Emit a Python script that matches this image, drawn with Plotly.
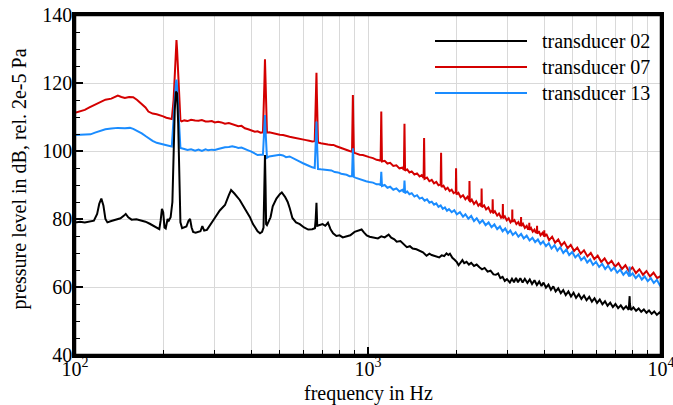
import plotly.graph_objects as go

# ---------------- data (frequency in Hz, level in dB) ----------------
red_pts = [
    (100,111.2),(104,111.6),(108,112.1),(112,112.8),(117,113.6),(122,114.4),(127,115.1),(133,115.4),
    (137,115.8),(140,116.3),(144,115.9),(148,115.6),(153,115.9),(158,115.8),(163,115.0),(169,113.9),
    (174,112.8),(178,111.6),(184,111.0),(190,110.8),(195,110.6),(200,110.2),(205,109.8),(210,109.5),
    (214,109.4),(217,115.0),(219,122.0),(221,130.5),(222,132.6),(223,130.0),(225,122.0),(227,114.0),
    (229,109.0),(231,108.7),(236,109.0),(242,108.8),(249,109.2),(257,109.0),(264,108.9),(271,109.1),
    (279,108.7),(285,108.7),(293,108.8),(300,108.4),(308,108.6),(316,108.4),(325,108.0),(335,108.2),
    (344,107.9),(352,107.7),(361,107.3),(370,107.4),(380,106.7),(390,106.4),(400,106.0),(411,105.7),
    (420,105.8),(430,105.4),(438,105.5),(441,112.0),(443,120.0),(445,127.0),(447,119.0),(449,112.0),
    (452,105.4),(460,105.5),(470,105.3),(480,105.0),(490,104.9),(500,104.8),(513,104.7),(525,104.4),
    (540,104.2),(555,104.0),(570,103.8),(585,103.8),(600,103.5),(615,103.2),(630,103.0),(645,102.8),
    (658,102.9),(662,112.0),(665,120.0),(667,123.0),(669,117.0),(672,108.0),(675,102.5),(690,102.3),
    (710,102.0),(730,101.9),(750,101.8),(762,101.8),(780,101.4),(800,101.0),(820,100.8),(845,100.3),
    (865,100.0),(882,99.8),(885,108.0),(888,116.5),(891,108.0),(895,99.5),(910,99.3),(936,98.9),
    (960,98.8),(985,98.4),(1010,98.2),(1040,97.9),(1070,97.4),(1100,97.2),(1104,97.0),(1107,104.0),
    (1110,111.6),(1113,104.0),(1116,96.9),(1140,97.1),(1165,96.3),(1190,96.5),(1220,95.6),(1250,95.8),
    (1280,94.9),(1310,95.1),(1326,94.4),(1329,101.0),(1332,108.0),(1335,101.0),(1338,94.2),(1360,94.6),
    (1385,93.7),(1410,94.0),(1440,93.1),(1470,93.4),(1500,92.5),(1525,92.9),(1548,92.1),(1551,98.0),
    (1554,103.8),(1557,98.0),(1560,91.8),(1590,92.2),(1620,91.1),(1650,91.5),(1680,90.5),(1710,90.9),
    (1740,89.9),(1770,90.2),(1773,95.0),(1776,99.5),(1779,95.0),(1782,89.4),(1810,89.8),(1840,88.7),
    (1870,89.2),(1900,88.2),(1930,88.6),(1960,87.6),(1994,88.0),(1996,91.5),(1998,94.9),(2000,91.5),
    (2004,87.2),(2035,87.7),(2070,86.4),(2110,87.0),(2150,85.8),(2185,86.5),(2216,85.4),(2218,88.3),
    (2220,91.2),(2222,88.3),(2226,85.0),(2260,85.7),(2300,84.4),(2340,85.2),(2380,83.9),(2420,84.6),
    (2438,83.6),(2440,86.3),(2442,89.0),(2444,86.3),(2448,83.5),(2490,84.0),(2530,82.8),(2575,83.4),
    (2620,82.0),(2660,82.6),(2662,84.2),(2664,85.8),(2666,84.2),(2670,81.7),(2710,82.3),(2760,81.0),
    (2800,81.6),(2845,80.4),(2882,81.0),(2884,82.7),(2886,84.4),(2888,82.7),(2890,80.2),(2930,80.8),
    (2975,79.6),(3020,80.2),(3065,79.0),(3104,79.6),(3106,81.2),(3108,82.8),(3110,81.2),(3112,79.2),
    (3160,79.7),(3210,78.5),(3260,79.1),(3300,78.0),(3326,78.6),(3328,79.6),(3330,80.6),(3332,79.6),
    (3334,77.9),(3380,78.6),(3430,77.4),(3480,78.0),(3520,76.9),(3548,77.5),(3550,78.3),(3552,78.9),
    (3554,78.3),(3556,76.8),(3600,77.4),(3650,76.3),(3700,76.9),(3740,75.9),(3772,76.4),(3774,77.3),
    (3776,78.0),(3778,77.3),(3780,75.7),(3830,76.4),(3880,75.2),(3940,75.9),(3992,74.9),(3994,75.9),
    (3996,76.7),(3998,75.9),(4000,74.8),(4060,75.6),(4150,73.8),(4250,74.8),(4350,73.0),(4460,74.0),
    (4570,72.2),(4680,73.2),(4800,71.4),(4920,72.4),(5050,70.6),(5180,71.6),(5320,69.8),(5460,70.8),
    (5610,69.0),(5760,70.0),(5920,68.2),(6080,69.2),(6250,67.4),(6420,68.4),(6600,66.7),(6780,67.7),
    (6970,66.0),(7160,67.0),(7360,65.3),(7560,66.4),(7770,64.7),(7990,65.8),(8210,64.1),(8440,65.2),
    (8680,63.6),(8920,64.7),(9170,63.1),(9430,64.2),(9700,62.6),(10000,63.3),
]

blue_pts = [
    (100,104.7),(104,104.7),(108,104.7),(113,104.9),(117,105.4),(122,105.9),(127,106.4),(133,106.6),
    (140,106.8),(148,106.7),(154,106.8),(158,106.5),(164,105.9),(169,105.2),(174,104.4),(178,103.8),
    (184,103.0),(190,102.4),(195,102.1),(200,101.9),(207,101.6),(214,101.3),(217,108.0),(219,115.0),
    (221,120.0),(222,121.0),(223,119.0),(225,112.0),(227,104.0),(229,100.9),(236,100.6),(242,100.3),
    (249,100.5),(257,100.1),(264,100.4),(271,100.0),(279,100.5),(285,100.2),(293,100.4),(300,100.3),
    (308,100.6),(316,100.9),(325,101.1),(335,101.2),(344,101.4),(352,101.2),(361,100.9),(370,101.0),
    (380,100.7),(390,100.2),(400,99.8),(411,99.3),(420,98.8),(430,98.9),(438,98.9),(441,104.0),
    (443,109.0),(445,110.6),(447,106.0),(449,101.0),(452,98.0),(460,98.4),(470,98.5),(480,98.8),
    (490,98.9),(500,98.9),(513,98.7),(525,98.2),(540,98.4),(555,97.8),(570,97.3),(585,96.9),
    (600,96.4),(615,95.9),(630,95.6),(645,95.2),(658,95.0),(662,101.0),(665,106.0),(667,108.7),
    (669,104.0),(672,99.0),(675,94.7),(690,94.6),(710,94.5),(730,94.2),(750,94.3),(770,93.8),
    (790,93.7),(810,93.3),(830,93.2),(845,93.0),(865,92.6),(882,92.6),(885,97.0),(888,100.8),
    (891,97.0),(895,92.4),(910,92.1),(936,91.7),(960,91.5),(985,91.1),(1010,90.9),(1040,90.7),
    (1070,90.2),(1100,90.3),(1104,89.8),(1107,92.3),(1110,93.9),(1113,92.0),(1116,89.7),(1140,90.0),
    (1165,89.2),(1190,89.5),(1220,88.6),(1250,89.0),(1280,88.1),(1310,88.6),(1326,87.8),(1329,90.0),
    (1332,91.3),(1335,89.8),(1338,87.6),(1360,88.1),(1385,87.3),(1410,87.6),(1440,86.6),(1470,87.0),
    (1500,86.0),(1530,86.3),(1560,85.4),(1590,85.8),(1620,84.8),(1650,85.1),(1680,84.2),(1710,84.6),
    (1740,83.6),(1770,84.0),(1800,83.0),(1830,83.4),(1860,82.4),(1890,82.9),(1930,82.0),(1970,82.6),
    (2010,81.4),(2060,82.0),(2110,80.7),(2150,81.4),(2200,80.1),(2250,80.9),(2300,79.4),(2350,80.2),
    (2406,78.8),(2460,79.6),(2520,78.2),(2580,79.0),(2640,77.6),(2700,78.4),(2760,77.0),(2820,77.8),
    (2880,76.4),(2940,77.2),(3000,75.8),(3060,76.6),(3120,75.3),(3190,76.1),(3260,74.8),(3330,75.6),
    (3400,74.3),(3480,75.1),(3560,73.7),(3640,74.5),(3720,73.2),(3800,74.0),(3880,72.6),(3960,73.4),
    (4050,72.0),(4140,72.9),(4230,71.3),(4330,72.3),(4430,70.7),(4530,71.7),(4640,70.0),(4750,71.0),
    (4860,69.4),(4980,70.3),(5100,68.7),(5220,69.6),(5340,67.9),(5470,68.8),(5600,67.2),(5730,68.1),
    (5860,66.5),(6000,67.4),(6150,65.9),(6300,66.8),(6450,65.3),(6600,66.3),(6760,64.8),(6920,65.7),
    (7090,64.2),(7260,65.1),(7440,63.6),(7620,64.6),(7800,63.1),(7816,66.0),(7832,63.2),(8000,64.0),
    (8200,62.6),(8400,63.6),(8600,62.2),(8800,63.1),(9010,61.7),(9230,62.6),(9450,61.2),(9680,62.1),
    (9900,60.6),(10000,61.2),
]

black_pts = [
    (100,79.0),(104,79.2),(108,79.0),(112,79.3),(116,79.5),(119,81.5),(121,84.5),(123,86.0),
    (125,84.0),(127,80.0),(129,79.0),(133,79.4),(138,79.7),(143,80.2),(147,81.0),(149,81.5),
    (152,80.5),(156,79.8),(162,79.9),(168,79.6),(174,79.2),(180,78.6),(185,78.0),(190,77.4),
    (194,77.0),(196,79.5),(198,83.0),(200,82.0),(202,77.5),(204,77.2),(207,80.0),(209,79.5),
    (212,80.5),(215,85.0),(217,100.0),(219,112.0),(221,117.5),(223,117.0),(225,108.0),(227,92.0),
    (229,79.0),(232,77.3),(236,77.5),(240,77.8),(244,79.5),(247,80.0),(250,77.5),(253,76.2),
    (258,76.0),(264,76.2),(268,76.4),(272,77.9),(276,76.6),(282,76.8),(290,78.5),(300,80.3),
    (312,82.5),(325,84.1),(335,87.0),(341,88.5),(350,87.5),(365,85.6),(380,83.0),(395,80.6),
    (405,78.5),(412,77.3),(420,76.4),(428,75.8),(435,76.2),(440,77.5),(443,90.0),(445,98.8),
    (447,90.0),(449,78.5),(452,78.2),(458,79.5),(465,80.5),(473,83.7),(487,86.0),(500,87.3),
    (508,87.8),(521,86.5),(532,85.0),(541,83.1),(552,80.3),(568,79.0),(585,78.5),(605,77.5),
    (625,76.9),(645,77.0),(659,77.3),(663,80.0),(667,84.8),(671,78.0),(680,78.2),(700,78.5),
    (715,78.0),(730,78.9),(745,77.0),(760,75.8),(780,75.0),(800,75.2),(820,74.6),(845,74.8),
    (870,75.2),(900,76.2),(920,76.5),(936,76.7),(951,76.9),(970,76.0),(990,75.2),(1013,74.8),
    (1040,74.6),(1081,74.3),(1110,74.9),(1140,74.6),(1176,75.4),(1200,74.5),(1230,74.0),(1253,73.3),
    (1290,73.5),(1320,72.6),(1357,71.7),(1390,72.0),(1420,71.3),(1463,71.1),(1500,70.6),(1540,70.2),
    (1584,69.2),(1620,69.8),(1650,69.4),(1700,69.1),(1750,68.7),(1784,69.3),(1820,69.1),(1853,69.9),
    (1880,69.4),(1904,69.8),(1940,68.6),(1975,68.0),(2010,67.3),(2038,66.4),(2070,67.4),(2100,67.9),
    (2130,67.0),(2170,67.4),(2210,66.6),(2250,67.1),(2300,66.2),(2349,66.6),(2400,65.8),(2450,65.2),
    (2500,65.6),(2560,64.5),(2620,64.8),(2680,63.7),(2731,63.6),(2780,64.0),(2830,62.6),(2880,63.0),
    (2930,61.8),(2980,62.3),(3049,61.3),(3100,62.4),(3150,61.4),(3200,62.7),(3250,61.4),(3310,62.6),
    (3370,61.3),(3430,62.4),(3500,61.2),(3566,62.2),(3630,60.9),(3700,62.0),(3770,60.6),(3840,61.6),
    (3910,60.3),(3973,61.3),(4050,59.8),(4130,60.7),(4210,59.2),(4290,60.2),(4370,58.7),(4460,59.6),
    (4550,58.2),(4638,59.1),(4730,57.6),(4830,58.7),(4930,57.2),(5030,58.3),(5130,56.8),(5240,57.9),
    (5350,56.5),(5460,57.5),(5570,56.1),(5690,57.1),(5810,55.7),(5930,56.7),(6050,55.3),(6180,56.3),
    (6310,54.9),(6440,55.8),(6570,54.5),(6710,55.4),(6850,54.1),(6990,55.0),(7140,53.8),(7290,54.6),
    (7440,53.5),(7600,54.3),(7760,53.3),(7800,55.5),(7816,57.3),(7832,55.0),(7900,53.2),(8050,54.0),
    (8220,53.0),(8390,53.7),(8560,52.7),(8740,53.4),(8920,52.4),(9100,53.1),(9290,52.1),(9480,52.8),
    (9680,51.8),(9880,52.5),(10000,52.0),
]

series_names = ["transducer 02", "transducer 07", "transducer 13"]
series_colors = ["#000000", "#d40000", "#1a8cff"]

x_major_vals = [100, 1000, 10000]
x_major_text = ["10<sup>2</sup>", "10<sup>3</sup>", "10<sup>4</sup>"]
x_minor_vals = [200, 300, 400, 500, 600, 700, 800, 900,
                2000, 3000, 4000, 5000, 6000, 7000, 8000, 9000]
y_range = [40, 140]
x_title = "frequency in Hz"
y_title = "pressure level in dB, rel. 2e-5 Pa"

FONT = "Liberation Serif, Times New Roman, serif"
FS = 20
GRID = "#d9d9d9"

fig = go.Figure()
# draw order: red, blue, black (black on top)
for pts, name, color in [(red_pts, series_names[1], series_colors[1]),
                         (blue_pts, series_names[2], series_colors[2]),
                         (black_pts, series_names[0], series_colors[0])]:
    fig.add_trace(go.Scatter(
        x=[p[0] for p in pts], y=[p[1] for p in pts], mode="lines", name=name,
        line=dict(color=color, width=2), showlegend=False, hoverinfo="skip"))

# plot area in pixels: x 75..661, y 15..355
L, R, T, B = 75, 661, 15, 355
def px(x):
    return (x - L) / (R - L)
def py(y):
    return (B - y) / (B - T)

shapes = [dict(type="rect", xref="paper", yref="paper", x0=px(433), x1=px(660), y0=py(103), y1=py(16),
               fillcolor="white", line=dict(width=0), layer="between"),
          dict(type="rect", xref="paper", yref="paper", x0=0, x1=1, y0=0, y1=1,
               line=dict(color="black", width=2.5), layer="above")]
annotations = []
for i, (name, color) in enumerate(zip(series_names, series_colors)):
    yy = py(41 + 26 * i)
    shapes.append(dict(type="line", xref="paper", yref="paper", x0=px(435), x1=px(527), y0=yy, y1=yy,
                       line=dict(color=color, width=1.8), layer="above"))
    annotations.append(dict(xref="paper", yref="paper", x=px(540), y=yy, xanchor="left", yanchor="middle",
                            text=name, showarrow=False, font=dict(family=FONT, size=FS, color="black")))
annotations.append(dict(xref="paper", yref="paper", x=0.5, y=py(393), xanchor="center", yanchor="middle",
                        text=x_title, showarrow=False, font=dict(family=FONT, size=FS, color="black")))
annotations.append(dict(xref="paper", yref="paper", x=px(19.5), y=py(179), xanchor="center", yanchor="middle",
                        textangle=-90, text=y_title, showarrow=False,
                        font=dict(family=FONT, size=FS, color="black")))

fig.update_layout(
    width=673, height=405,
    margin=dict(l=L, r=673 - R, t=T, b=405 - B, autoexpand=False),
    paper_bgcolor="white", plot_bgcolor="white",
    font=dict(family=FONT, size=FS, color="black"),
    shapes=shapes, annotations=annotations, showlegend=False,
    xaxis=dict(type="log", range=[2, 4], tickmode="array", tickvals=x_major_vals, ticktext=x_major_text,
               ticks="inside", ticklen=8, tickwidth=1.5, tickcolor="black", automargin=False,
               ticklabeloverflow="allow", ticklabelstandoff=-6,
               showline=True, linewidth=2.5, linecolor="black", mirror=True,
               showgrid=True, gridcolor=GRID, gridwidth=1, zeroline=False,
               minor=dict(tickmode="array", tickvals=x_minor_vals, ticks="inside", ticklen=5,
                          tickwidth=1, tickcolor="black", showgrid=True, gridcolor=GRID, gridwidth=1),
               tickfont=dict(family=FONT, size=FS)),
    yaxis=dict(range=y_range, tickmode="linear", tick0=40, dtick=20,
               ticks="inside", ticklen=8, tickwidth=1.5, tickcolor="black", automargin=False,
               ticklabeloverflow="allow", ticklabelstandoff=-4,
               showline=True, linewidth=2.5, linecolor="black", mirror=True,
               showgrid=True, gridcolor=GRID, gridwidth=1, zeroline=False,
               minor=dict(dtick=5, ticks="inside", ticklen=5, tickwidth=1, tickcolor="black", showgrid=False),
               tickfont=dict(family=FONT, size=FS)),
)

fig.write_html("out.html")
